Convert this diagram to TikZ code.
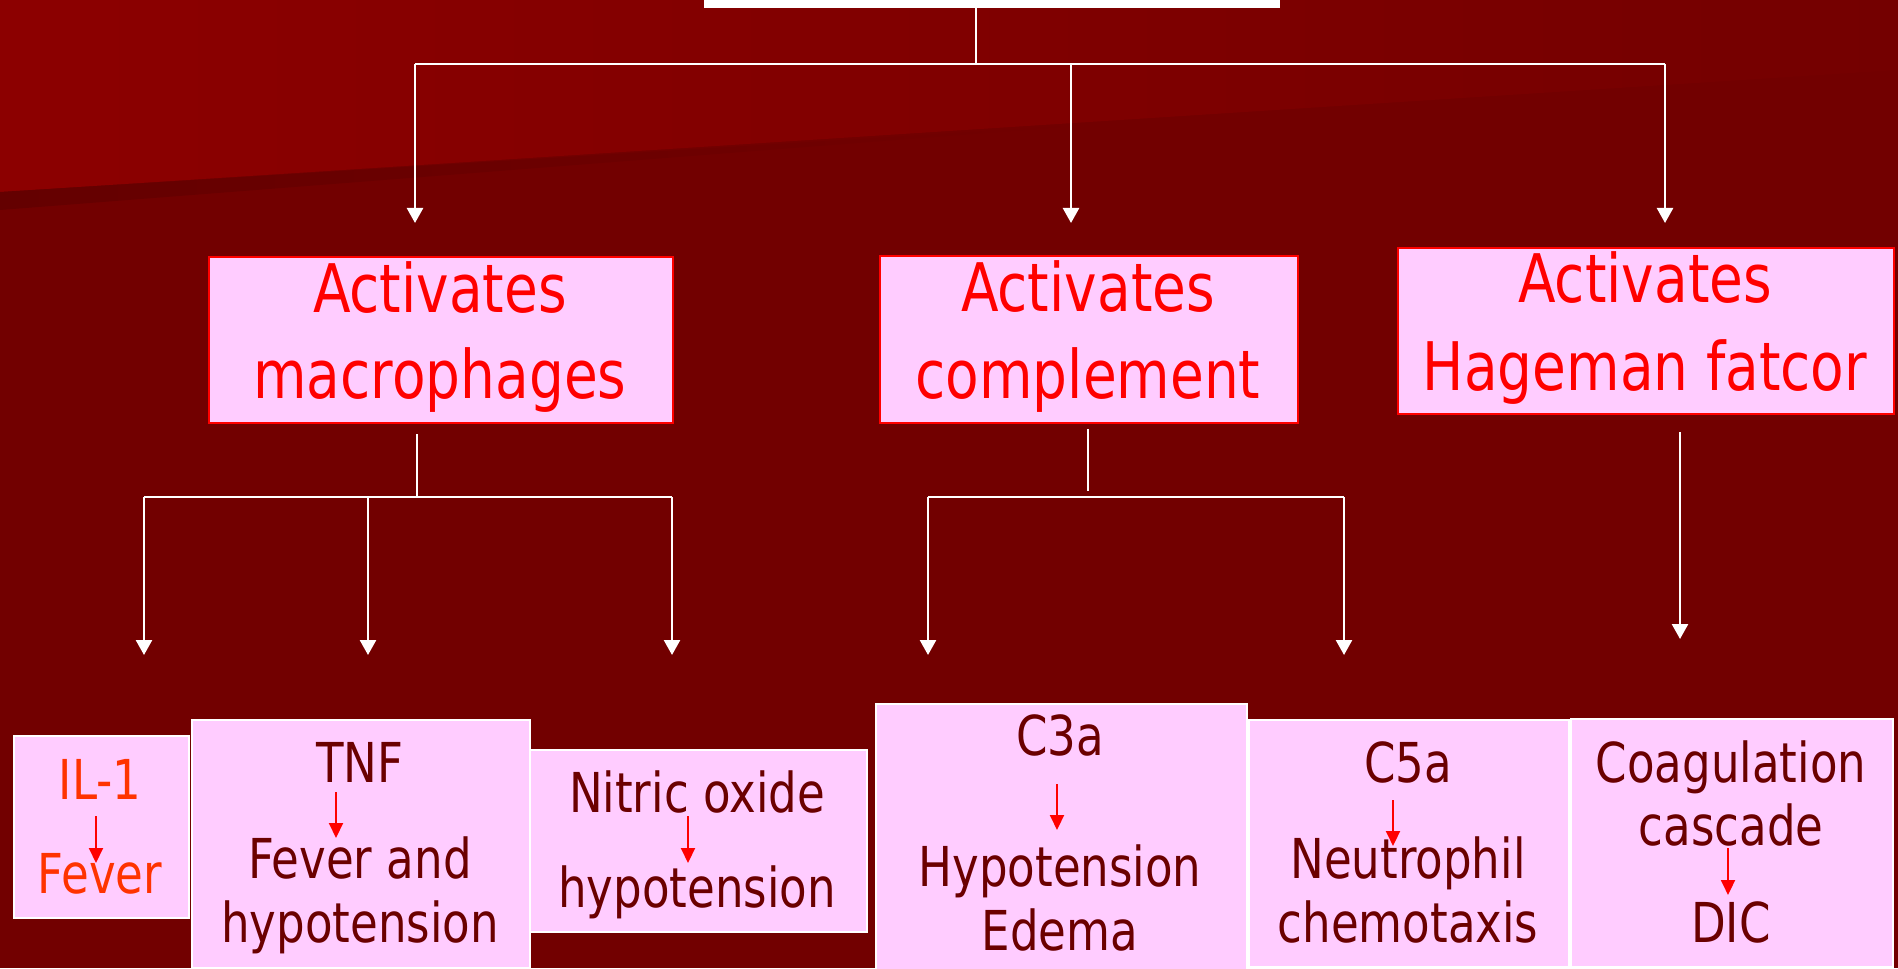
\documentclass[tikz,border=0pt]{standalone}
\usepackage{fontspec}
\setmainfont{DejaVu Sans}[FakeStretch=0.82]
\usetikzlibrary{arrows.meta, positioning}

\definecolor{bgdark}{HTML}{720000}
\definecolor{bgtop}{HTML}{8C0000}
\definecolor{bgright}{HTML}{740000}
\definecolor{bgband}{HTML}{640000}
\definecolor{boxpink}{HTML}{FFCCFF}
\definecolor{textbrown}{HTML}{6B0000}
\definecolor{textorange}{HTML}{FF3300}

\begin{document}
\begin{tikzpicture}
        [
            x=0.5pt, y=-0.5pt,
            midbox/.style={draw=red, line width=1pt, fill=boxpink,
                           inner sep=0pt, anchor=north west},
            lowbox/.style={draw=white, line width=1pt, fill=boxpink,
                           inner sep=0pt, anchor=north west},
            midtext/.style={text=red, inner sep=0pt, anchor=base,
                            font=\fontsize{33.5}{43.5}\selectfont},
            lowtext/.style={text=textbrown, inner sep=0pt, anchor=base,
                            font=\fontsize{27.5}{32}\selectfont},
            wire/.style={white, line width=1.25pt},
            wirearrow/.style={wire, -{Triangle[width=8pt, length=7.5pt]}},
            redarrow/.style={red, line width=1pt, -{Triangle[width=7pt, length=7.5pt]}}
        ]
        \path[use as bounding box, clip] (0,0) rectangle (1898,968);
        % background
        \fill[bgdark] (0,0) rectangle (1898,968);
        \shade[left color=bgtop, right color=bgright]
            (0,0) -- (1898,0) -- (1898,70) -- (0,192) -- cycle;
        \shade[left color=bgband, right color=bgdark]
            (0,192) -- (1100,124) -- (0,210) -- cycle;

        \node (title) [fill=white, inner sep=0pt, anchor=south west,
                       minimum width=288pt, minimum height=30pt] at (704,8) {};

        % second row
        \node (mac) [midbox, minimum width=232pt, minimum height=83pt] at (208,256) {};
        \node (comp) [midbox, minimum width=209pt, minimum height=83.5pt] at (879,255) {};
        \node (hag) [midbox, minimum width=248pt, minimum height=83pt] at (1397,247) {};
        \node (mac1) [midtext] at (440,312) {Activates};
        \node (mac2) [midtext] at (440,398) {macrophages};
        \node (comp1) [midtext] at (1088,311) {Activates};
        \node (comp2) [midtext] at (1088,398) {complement};
        \node (hag1) [midtext] at (1645,302) {Activates};
        \node (hag2) [midtext] at (1645,390) {Hageman fatcor};

        % bottom row
        \node (il) [lowbox, minimum width=87.5pt, minimum height=91pt] at (13,735) {};
        \node (tnf) [lowbox, minimum width=169pt, minimum height=124pt] at (191,719) {};
        \node (no) [lowbox, minimum width=168.5pt, minimum height=91pt] at (529,749) {};
        \node (ctri) [lowbox, minimum width=185.5pt, minimum height=137.5pt] at (875,703) {};
        \node (cfive) [lowbox, minimum width=160pt, minimum height=123.5pt] at (1248,719) {};
        \node (coag) [lowbox, minimum width=161pt, minimum height=124pt] at (1570,718) {};

        \node (il1) [lowtext, text=textorange] at (100,799) {IL-1};
        \node (il2) [lowtext, text=textorange] at (100,893) {Fever};
        \node (tnf1) [lowtext] at (360,782) {TNF};
        \node (tnf2) [lowtext] at (360,878) {Fever and};
        \node (tnf3) [lowtext] at (360,942) {hypotension};
        \node (no1) [lowtext] at (697,812) {Nitric oxide};
        \node (no2) [lowtext] at (697,907) {hypotension};
        \node (ctri1) [lowtext] at (1060,755) {C3a};
        \node (ctri2) [lowtext] at (1060,886) {Hypotension};
        \node (ctri3) [lowtext] at (1060,950) {Edema};
        \node (cfive1) [lowtext] at (1408,782) {C5a};
        \node (cfive2) [lowtext] at (1408,878) {Neutrophil};
        \node (cfive3) [lowtext] at (1408,942) {chemotaxis};
        \node (coag1) [lowtext] at (1731,782) {Coagulation};
        \node (coag2) [lowtext] at (1731,845) {cascade};
        \node (coag3) [lowtext] at (1731,942) {DIC};

        % red arrows inside the boxes
        \foreach \n/\x/\ya/\yb in {il/96/816/863, tnf/336/792/838, no/688/816/863,
                                   ctri/1057/784/830, cfive/1393/800/846, coag/1728/848/895}
        {
            \coordinate (\n-from) at (\x,\ya);
            \coordinate (\n-to) at (\x,\yb);
            \draw [redarrow] (\n-from) -- (\n-to);
        }

        % white connectors
        \coordinate (hub) at (976,64);
        \coordinate (busL) at (415,64);
        \coordinate (busM) at (1071,64);
        \coordinate (busR) at (1665,64);
        \draw [wire] (title.south -| hub) -- (hub);
        \draw [wire] (busL) -- (busR);
        \draw [wirearrow, shorten >=16.5pt] (busL) -- (busL |- mac.north);
        \draw [wirearrow, shorten >=16pt] (busM) -- (busM |- comp.north);
        \draw [wirearrow, shorten >=12pt] (busR) -- (busR |- hag.north);

        \coordinate (macHub) at (417,497);
        \coordinate (macL) at (144,497);
        \coordinate (macM) at (368,497);
        \coordinate (macR) at (672,497);
        \draw [wire] ([yshift=-5pt]mac.south -| macHub) -- (macHub);
        \draw [wire] (macL) -- (macR);
        \draw [wirearrow, shorten >=40pt] (macL) -- (macL |- il.north);
        \draw [wirearrow, shorten >=32pt] (macM) -- (macM |- tnf.north);
        \draw [wirearrow, shorten >=47pt] (macR) -- (macR |- no.north);

        \coordinate (compHub) at (1088,491);
        \coordinate (compL) at (928,497);
        \coordinate (compR) at (1344,497);
        \draw [wire] ([yshift=-2.5pt]comp.south -| compHub) -- (compHub);
        \draw [wire] (compL) -- (compR);
        \draw [wirearrow, shorten >=24pt] (compL) -- (compL |- ctri.north);
        \draw [wirearrow, shorten >=32pt] (compR) -- (compR |- cfive.north);

        \coordinate (hagOut) at (1680,432);
        \draw [wirearrow, shorten >=39.5pt] (hagOut) -- (hagOut |- coag.north);
\end{tikzpicture}
\end{document}
